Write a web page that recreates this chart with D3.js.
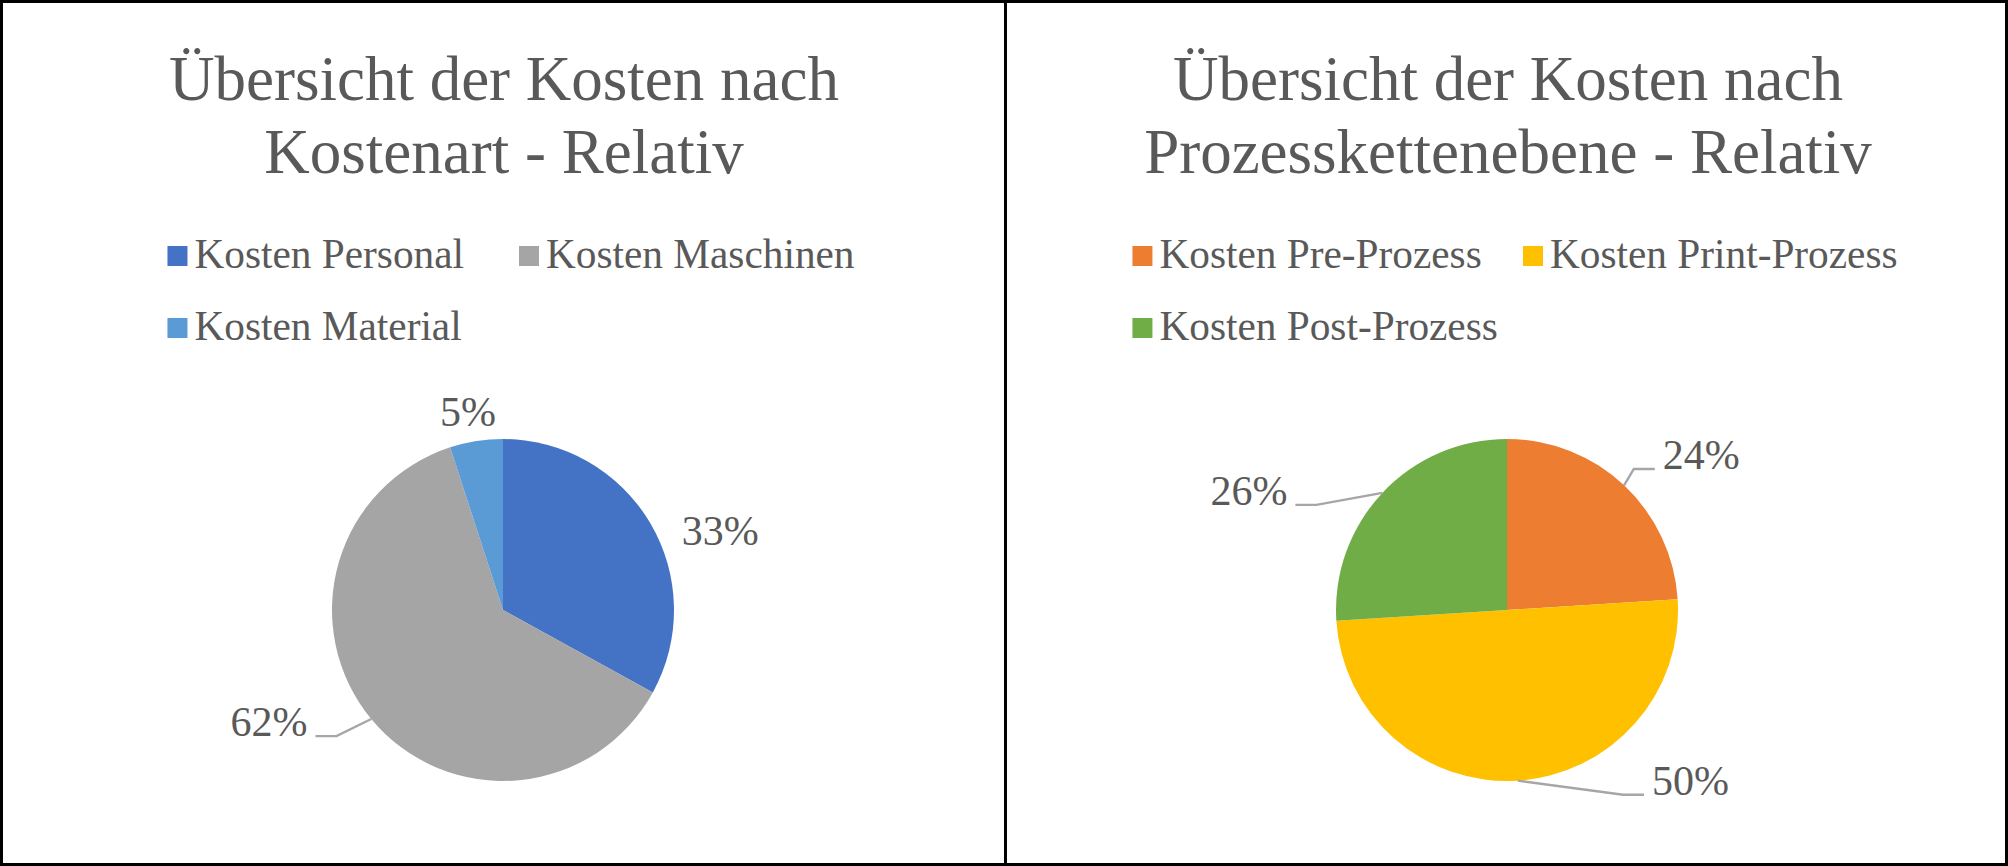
<!DOCTYPE html>
<html>
<head>
<meta charset="utf-8">
<script src="https://cdn.jsdelivr.net/npm/d3@7"></script>
<style>
  html, body { margin: 0; padding: 0; background: #ffffff; }
  svg { display: block; }
</style>
</head>
<body>
<svg id="chart" width="2008" height="866"></svg>
<script>
// ---- Data ----
const titleLeft = ["Übersicht der Kosten nach", "Kostenart - Relativ"];
const categoriesLeft = ["Kosten Personal", "Kosten Maschinen", "Kosten Material"];
const valuesLeft = [33, 62, 5];
const colorsLeft = ["#4472C4", "#A5A5A5", "#5B9BD5"];

const titleRight = ["Übersicht der Kosten nach", "Prozesskettenebene - Relativ"];
const categoriesRight = ["Kosten Pre-Prozess", "Kosten Print-Prozess", "Kosten Post-Prozess"];
const valuesRight = [24, 50, 26];
const colorsRight = ["#ED7D31", "#FFC000", "#70AD47"];

// label placement (best-fit positions, polar: degrees clockwise from top, distance / radius)
const labelLayoutLeft = [{a: 70.3, f: 1.35}, {a: 244.2, f: 1.52}, {a: 349.9, f: 1.17}];
const labelLayoutRight = [{a: 51.6, f: 1.45}, {a: 133.1, f: 1.47}, {a: 294.6, f: 1.66}];

// ---- Drawing ----
const W = 2008, H = 866;
const svg = d3.select("#chart");
const FONT = "'Liberation Serif', 'Times New Roman', serif";
const TEXT = "#595959";
const TITLE_SIZE = 63, LEGEND_SIZE = 41.3, LABEL_SIZE = 42;

function panel(x0, x1, title, cats, vals, colors, layout) {
  const g = svg.append("g");
  const cx = (x0 + x1) / 2;

  // title
  g.selectAll("text.title").data(title).join("text")
    .attr("class", "title")
    .attr("x", cx + 2)
    .attr("y", (d, i) => 100 + i * 73)
    .attr("text-anchor", "middle")
    .attr("font-family", FONT)
    .attr("font-size", TITLE_SIZE)
    .attr("fill", TEXT)
    .text(d => d);

  // legend
  const lg = g.append("g");
  const items = lg.selectAll("g.item").data(cats).join("g").attr("class", "item");
  const texts = items.append("text")
    .attr("font-family", FONT)
    .attr("font-size", LEGEND_SIZE)
    .attr("fill", TEXT)
    .text(d => d);
  const widths = [];
  texts.each(function() { widths.push(this.getComputedTextLength()); });
  const maxW = d3.max(widths);
  const sq = 20, gapT = 7, colGap = 16;
  const colW = sq + gapT + maxW + colGap;
  const totalW = colW + sq + gapT + widths[1];
  const lx = cx + 9 - totalW / 2;
  items.attr("transform", (d, i) => `translate(${lx + (i % 2) * colW},${268 + Math.floor(i / 2) * 72})`);
  items.insert("rect", "text")
    .attr("x", 0).attr("y", -22)
    .attr("width", sq).attr("height", sq)
    .attr("fill", (d, i) => colors[i]);
  texts.attr("x", sq + gapT).attr("y", 0);

  // pie
  const pcx = cx + 1, pcy = 610, r = 171;
  const pie = d3.pie().sort(null).value(d => d)(vals);
  const arc = d3.arc().innerRadius(0).outerRadius(r);
  const pg = g.append("g").attr("transform", `translate(${pcx},${pcy})`);
  pg.selectAll("path").data(pie).join("path")
    .attr("d", arc)
    .attr("fill", (d, i) => colors[i]);

  // labels
  pie.forEach((d, i) => {
    const L = layout[i];
    const ang = L.a * Math.PI / 180;
    const lx0 = Math.sin(ang) * r * L.f;
    const ly0 = -Math.cos(ang) * r * L.f;
    const t = pg.append("text")
      .attr("x", lx0).attr("y", ly0 + 13)
      .attr("text-anchor", "middle")
      .attr("font-family", FONT)
      .attr("font-size", LABEL_SIZE)
      .attr("fill", TEXT)
      .text(Math.round(d.value) + "%");
    if (L.f > 1.4) {
      const tw = t.node().getComputedTextLength();
      const mid = (d.startAngle + d.endAngle) / 2;
      const ex = Math.sin(mid) * r, ey = -Math.cos(mid) * r;
      const right = lx0 > ex;
      const side = right ? lx0 - tw / 2 : lx0 + tw / 2;
      const dir = right ? -1 : 1;
      const by = ly0 + 13;
      pg.insert("path", "text")
        .attr("d", d3.line()([[ex, ey], [side + dir * 29, by], [side + dir * 8, by]]))
        .attr("fill", "none")
        .attr("stroke", "#A6A6A6")
        .attr("stroke-width", 2.4);
    }
  });

  // border
  g.append("rect")
    .attr("x", x0 + 1.5).attr("y", 1.5)
    .attr("width", x1 < W ? x1 - x0 : x1 - x0 - 3).attr("height", H - 3)
    .attr("fill", "none")
    .attr("stroke", "#000")
    .attr("stroke-width", 3);
}

panel(0, 1004, titleLeft, categoriesLeft, valuesLeft, colorsLeft, labelLayoutLeft);
panel(1004, 2008, titleRight, categoriesRight, valuesRight, colorsRight, labelLayoutRight);
</script>
</body>
</html>
